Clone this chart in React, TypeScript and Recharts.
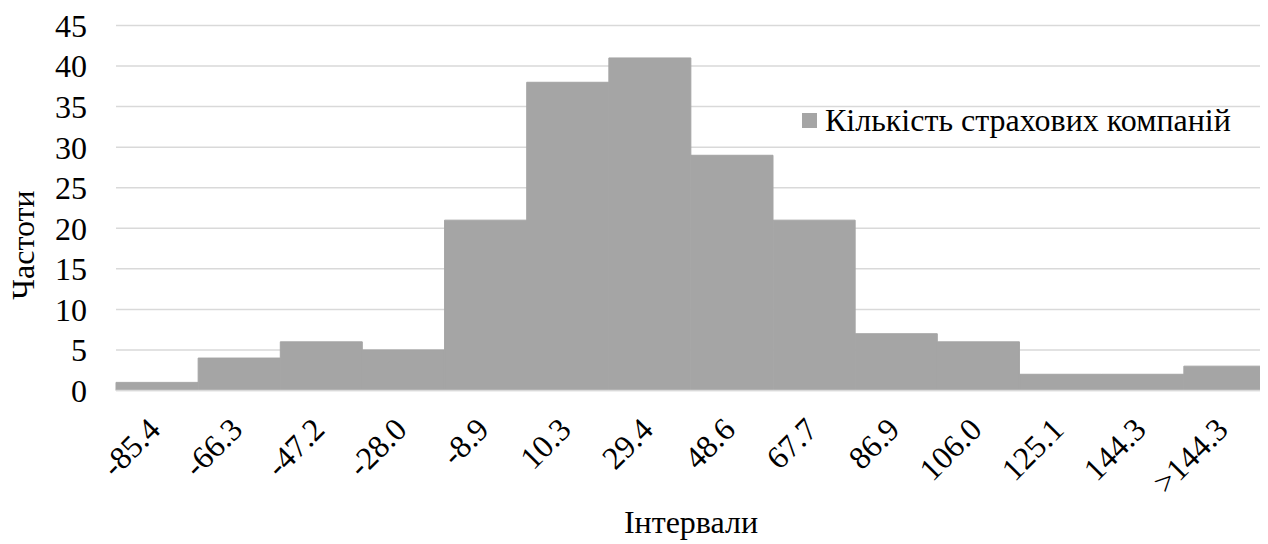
import React from 'react';
import { BarChart, Bar, XAxis, YAxis, CartesianGrid, Legend } from 'recharts';

const categories = ['-85.4', '-66.3', '-47.2', '-28.0', '-8.9', '10.3', '29.4', '48.6', '67.7', '86.9', '106.0', '125.1', '144.3', '>144.3'];
const frequencies = [1, 4, 6, 5, 21, 38, 41, 29, 21, 7, 6, 2, 2, 3];
const yTicks = [0, 5, 10, 15, 20, 25, 30, 35, 40, 45];
const seriesName = 'Кількість страхових компаній';
const xTitle = 'Інтервали';
const yTitle = 'Частоти';

const data = categories.map((c, i) => ({ interval: c, count: frequencies[i] }));

const FONT = '"Liberation Serif", "Times New Roman", serif';
const BAR = '#a5a5a5';
const GRID = '#d9d9d9';
const FS = 32;

const XTick = (props: any) => {
  const { x, y, payload } = props;
  const ax = x + 5;
  const ay = y + 33;
  return (
    <text x={ax} y={ay} transform={`rotate(-45, ${ax}, ${ay})`} textAnchor="end" fontFamily={FONT} fontSize={FS} fill="#000">
      {payload.value}
    </text>
  );
};

const LegendContent = () => (
  <div style={{ display: 'flex', alignItems: 'center', fontFamily: FONT, fontSize: FS, color: '#000', whiteSpace: 'nowrap', lineHeight: 1 }}>
    <span style={{ display: 'inline-block', width: 15, height: 15, background: BAR, marginRight: 8 }} />
    <span>{seriesName}</span>
  </div>
);

export default function App() {
  return (
    <BarChart
      width={1260}
      height={536}
      data={data}
      margin={{ top: 17.5, right: 2, left: 48, bottom: 43 }}
      barCategoryGap={0}
      style={{ fontFamily: FONT }}
    >
      <CartesianGrid vertical={false} stroke={GRID} strokeWidth={1.5} />
      <XAxis
        dataKey="interval"
        interval={0}
        height={110.5}
        tickLine={false}
        axisLine={{ stroke: GRID, strokeWidth: 1.5 }}
        tick={<XTick />}
        label={{
          content: (p: any) => {
            const vb = p.viewBox || { x: 0, y: 0, width: 0, height: 0 };
            const cx = vb.x + vb.width / 2;
            const cy = 525;
            return (
              <text x={cx} y={cy} textAnchor="middle" fontFamily={FONT} fontSize={FS} fill="#000">
                {xTitle}
              </text>
            );
          },
        }}
      />
      <YAxis
        width={60}
        domain={[0, 45]}
        ticks={yTicks}
        interval={0}
        tickLine={false}
        axisLine={false}
        tickMargin={23}
        tick={{ fontFamily: FONT, fontSize: FS, fill: '#000' }}
        label={{
          content: () => {
            const cx = 26;
            const cy = 237;
            return (
              <text x={cx} y={cy} transform={`rotate(-90, ${cx}, ${cy})`} textAnchor="middle" fontFamily={FONT} fontSize={FS} fill="#000">
                {yTitle}
              </text>
            );
          },
        }}
      />
      <Legend
        layout="horizontal"
        verticalAlign="middle"
        align="center"
        content={<LegendContent />}
        wrapperStyle={{ position: 'absolute', left: 794, top: 96, width: 'auto' }}
      />
      <Bar dataKey="count" name={seriesName} fill={BAR} stroke={BAR} strokeWidth={1} isAnimationActive={false} />
    </BarChart>
  );
}
